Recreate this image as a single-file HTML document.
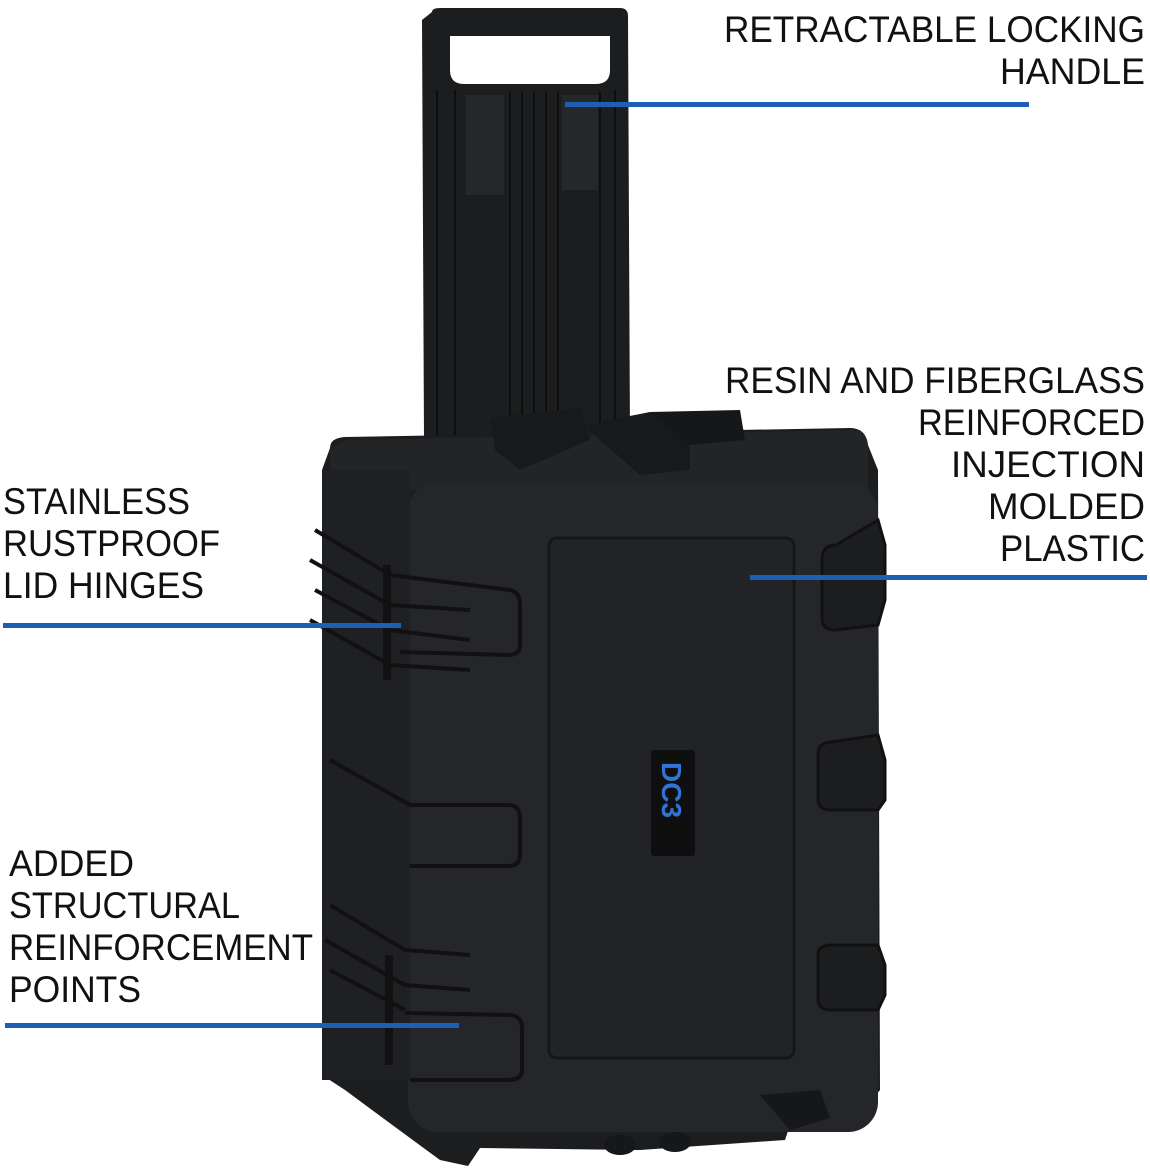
<!DOCTYPE html>
<html><head><meta charset="utf-8"><style>
html,body{margin:0;padding:0;background:#fff;}
svg{display:block;}
text{font-family:"Liberation Sans",sans-serif;font-size:37px;fill:#111;}
</style></head><body>
<svg width="1150" height="1170" viewBox="0 0 1150 1170" xmlns="http://www.w3.org/2000/svg">
<!-- handle -->
<path d="M432 12 Q432 8 440 8 L620 8 Q628 8 628 16 L630 440 L424 440 L422 20 Z" fill="#1c1d1f"/>
<path d="M450 36 L610 36 L610 70 Q610 84 596 84 L464 84 Q450 84 450 70 Z" fill="#fff"/>
<g stroke="#0e0e0f" stroke-width="2">
<line x1="437" y1="90" x2="437" y2="435"/><line x1="455" y1="90" x2="455" y2="435"/>
<line x1="510" y1="92" x2="510" y2="435"/><line x1="522" y1="92" x2="522" y2="435"/>
<line x1="534" y1="92" x2="534" y2="435"/><line x1="546" y1="92" x2="546" y2="435"/>
<line x1="558" y1="92" x2="558" y2="435"/><line x1="600" y1="92" x2="600" y2="435"/>
<line x1="615" y1="90" x2="615" y2="435"/>
</g>
<rect x="466" y="95" width="38" height="100" fill="#26272a"/>
<rect x="562" y="95" width="36" height="95" fill="#26272a"/>
<!-- case body -->
<path d="M330 448 Q330 438 345 437 L850 428 Q866 428 868 445 L878 470 L880 1090 L862 1112 L790 1125 L785 1140 L640 1150 L480 1148 L468 1166 L440 1160 L410 1138 L345 1090 L322 1075 L322 470 Z" fill="#1c1d1f"/>
<path d="M345 440 L855 430 Q868 432 868 448 L868 490 L410 490 L330 470 L330 450 Z" fill="#232426"/>
<rect x="408" y="482" width="470" height="650" rx="30" fill="#25262a"/>
<rect x="322" y="470" width="88" height="610" fill="#1f2023"/>
<rect x="549" y="538" width="245" height="520" rx="8" fill="#222326" stroke="#151617" stroke-width="3"/>
<!-- wheels / feet -->
<g fill="#161718">
<ellipse cx="620" cy="1145" rx="16" ry="10"/><ellipse cx="675" cy="1142" rx="16" ry="10"/>
<path d="M760 1095 L820 1090 L830 1118 L790 1130 Z"/>
</g>
<!-- latches on top -->
<path d="M490 418 L580 408 L590 440 L520 470 L495 450 Z" fill="#18191a"/>
<path d="M585 425 L650 412 L690 440 L690 470 L640 475 L600 440 Z" fill="#18191a"/>
<path d="M650 412 L740 410 L745 440 L690 445 Z" fill="#161718"/>
<!-- side ribs left -->
<g fill="none" stroke="#111" stroke-width="4">
<path d="M315 530 L390 575 L510 590 Q520 592 520 605 L520 645 Q520 655 508 655 L400 652"/>
<path d="M310 560 L390 605 L470 610"/>
<path d="M315 590 L390 630 L470 640"/>
<path d="M310 620 L390 665 L470 670"/>
<path d="M330 760 L410 805 L510 805 Q520 806 520 818 L520 855 Q520 866 508 866 L410 866"/>
<path d="M330 905 L405 950 L470 955"/>
<path d="M325 940 L405 985 L470 990"/>
<path d="M405 1013 L510 1015 Q522 1016 522 1028 L522 1070 Q522 1080 508 1080 L410 1080"/>
<path d="M330 970 L405 1010"/>
</g>
<rect x="383" y="565" width="8" height="115" fill="#111"/>
<rect x="385" y="955" width="8" height="110" fill="#111"/>
<!-- side ribs right -->
<g fill="#1c1d1f" stroke="#111" stroke-width="3">
<path d="M878 520 L885 545 L885 600 L878 625 L835 630 Q822 630 822 618 L822 560 Q822 545 836 545 Z"/>
<path d="M878 735 L885 760 L885 800 L878 810 L830 810 Q818 810 818 798 L818 755 Q818 742 832 742 Z"/>
<path d="M878 945 L885 965 L885 995 L878 1010 L830 1010 Q818 1010 818 998 L818 955 Q818 945 832 945 Z"/>
</g>
<!-- logo -->
<rect x="651" y="750" width="44" height="106" rx="3" fill="#0f0f10"/>
<text x="0" y="0" transform="translate(662,762) rotate(90)" style="font-size:28px;fill:#2f74d6;font-weight:bold;">DC3</text>
<!-- connector lines -->
<g fill="#1d5fb4">
<rect x="565" y="102" width="464" height="5"/>
<rect x="750" y="575" width="397" height="5"/>
<rect x="3" y="623" width="398" height="5"/>
<rect x="5" y="1023" width="454" height="5"/>
</g>
<!-- labels -->
<text x="724" y="42" textLength="421" lengthAdjust="spacingAndGlyphs">RETRACTABLE LOCKING</text>
<text x="1000" y="84" textLength="145" lengthAdjust="spacingAndGlyphs">HANDLE</text>
<text x="725" y="393" textLength="420" lengthAdjust="spacingAndGlyphs">RESIN AND FIBERGLASS</text>
<text x="918" y="435" textLength="227" lengthAdjust="spacingAndGlyphs">REINFORCED</text>
<text x="951" y="477" textLength="194" lengthAdjust="spacingAndGlyphs">INJECTION</text>
<text x="988" y="519" textLength="157" lengthAdjust="spacingAndGlyphs">MOLDED</text>
<text x="1000" y="561" textLength="145" lengthAdjust="spacingAndGlyphs">PLASTIC</text>
<text x="3" y="514" textLength="187" lengthAdjust="spacingAndGlyphs">STAINLESS</text>
<text x="3" y="556" textLength="217" lengthAdjust="spacingAndGlyphs">RUSTPROOF</text>
<text x="3" y="598" textLength="201" lengthAdjust="spacingAndGlyphs">LID HINGES</text>
<text x="9" y="876" textLength="125" lengthAdjust="spacingAndGlyphs">ADDED</text>
<text x="9" y="918" textLength="231" lengthAdjust="spacingAndGlyphs">STRUCTURAL</text>
<text x="9" y="960" textLength="304" lengthAdjust="spacingAndGlyphs">REINFORCEMENT</text>
<text x="9" y="1002" textLength="132" lengthAdjust="spacingAndGlyphs">POINTS</text>
</svg>
</body></html>
